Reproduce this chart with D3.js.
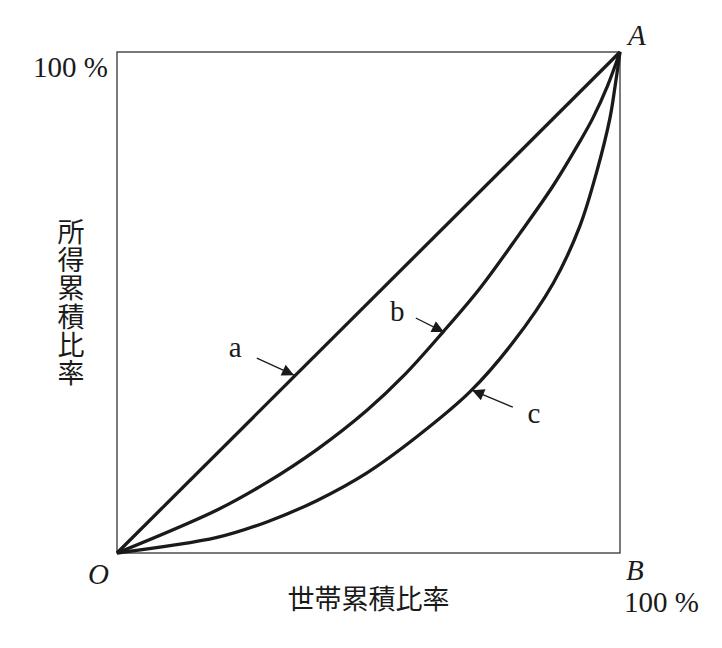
<!DOCTYPE html>
<html><head><meta charset="utf-8">
<script src="https://cdn.jsdelivr.net/npm/d3@7"></script>
<style>body{margin:0;background:#fff}svg{display:block}</style>
</head><body>
<svg id="c" width="722" height="648"></svg>
<script>
// cumulative share of households (x) vs cumulative share of income (y)
const curveA = [[0,0],[1,1]];
const curveB = [[0,0],[0.199,0.086],[0.298,0.141],[0.398,0.207],[0.497,0.285],[0.571,0.355],[0.648,0.441],[0.722,0.529],[0.801,0.638],[0.867,0.733],[0.920,0.821],[0.946,0.868],[0.975,0.932],[1,1]];
const curveC = [[0,0],[0.199,0.031],[0.298,0.062],[0.398,0.105],[0.497,0.160],[0.596,0.232],[0.702,0.322],[0.787,0.420],[0.867,0.538],[0.920,0.652],[0.954,0.762],[0.980,0.868],[0.990,0.930],[1,1]];
const curveNames = ["a","b","c"];
// annotation: label position, arrow tail, arrow tip (data units)
const labelPos = [[0.235,0.391],[0.557,0.463],[0.829,0.259]];
const arrowTail = [[0.278,0.389],[0.594,0.469],[0.787,0.291]];
const arrowTip  = [[0.352,0.355],[0.650,0.441],[0.706,0.325]];
const yTitle = "所得累積比率";
const xTitle = "世帯累積比率";
const pctLabel = "100 %";

const svg = d3.select("#c");
const x = d3.scaleLinear().domain([0,1]).range([117,620]);
const y = d3.scaleLinear().domain([0,1]).range([553,52]);
const serif = "'Liberation Serif','DejaVu Serif',serif";
const cjk = "'Noto Sans CJK JP','Noto Sans CJK SC',sans-serif";

svg.append("defs").append("marker").attr("id","ah")
  .attr("viewBox","0 0 10 10").attr("refX",10).attr("refY",5)
  .attr("markerWidth",16).attr("markerHeight",12).attr("markerUnits","userSpaceOnUse")
  .attr("orient","auto")
  .append("path").attr("d","M0,0L10,5L0,10Z").attr("fill","#1a1a1a");

// frame
svg.append("rect").attr("x",x(0)).attr("y",y(1)).attr("width",x(1)-x(0)).attr("height",y(0)-y(1))
  .attr("fill","none").attr("stroke","#333").attr("stroke-width",1.3);

const line = d3.line().x(d=>x(d[0])).y(d=>y(d[1])).curve(d3.curveCatmullRom.alpha(0.5));
[curveA,curveB,curveC].forEach(c=>{
  svg.append("path").attr("d",line(c)).attr("fill","none")
    .attr("stroke","#1a1a1a").attr("stroke-width",3.3).attr("stroke-linejoin","round");
});

curveNames.forEach((n,i)=>{
  svg.append("text").attr("x",x(labelPos[i][0])).attr("y",y(labelPos[i][1]))
    .attr("text-anchor","middle").attr("font-family",serif).attr("font-size",29)
    .attr("fill","#1a1a1a").text(n);
  svg.append("line").attr("x1",x(arrowTail[i][0])).attr("y1",y(arrowTail[i][1]))
    .attr("x2",x(arrowTip[i][0])).attr("y2",y(arrowTip[i][1]))
    .attr("stroke","#1a1a1a").attr("stroke-width",1.3).attr("marker-end","url(#ah)");
});

// corner labels
svg.append("text").attr("x",x(0)-9).attr("y",y(1)+25).attr("text-anchor","end")
  .attr("font-family",serif).attr("font-size",29).attr("fill","#1a1a1a").text(pctLabel);
svg.append("text").attr("x",x(1)+8).attr("y",y(1)-7)
  .attr("font-family",serif).attr("font-style","italic").attr("font-size",29).attr("fill","#1a1a1a").text("A");
svg.append("text").attr("x",x(0)-29).attr("y",y(0)+31)
  .attr("font-family",serif).attr("font-style","italic").attr("font-size",29).attr("fill","#1a1a1a").text("O");
svg.append("text").attr("x",x(1)+6).attr("y",y(0)+27)
  .attr("font-family",serif).attr("font-style","italic").attr("font-size",29).attr("fill","#1a1a1a").text("B");
svg.append("text").attr("x",x(1)+4).attr("y",y(0)+59)
  .attr("font-family",serif).attr("font-size",29).attr("fill","#1a1a1a").text(pctLabel);

// axis titles
svg.append("text").attr("x",(x(0)+x(1))/2).attr("y",y(0)+56).attr("text-anchor","middle")
  .attr("font-family",cjk).attr("font-size",27).attr("fill","#1a1a1a").text(xTitle);
svg.append("text").attr("x",71).attr("y",218)
  .attr("writing-mode","tb").attr("style","writing-mode:vertical-rl")
  .attr("letter-spacing",1.3)
  .attr("font-family",cjk).attr("font-size",27).attr("fill","#1a1a1a").text(yTitle);
</script>
</body></html>
